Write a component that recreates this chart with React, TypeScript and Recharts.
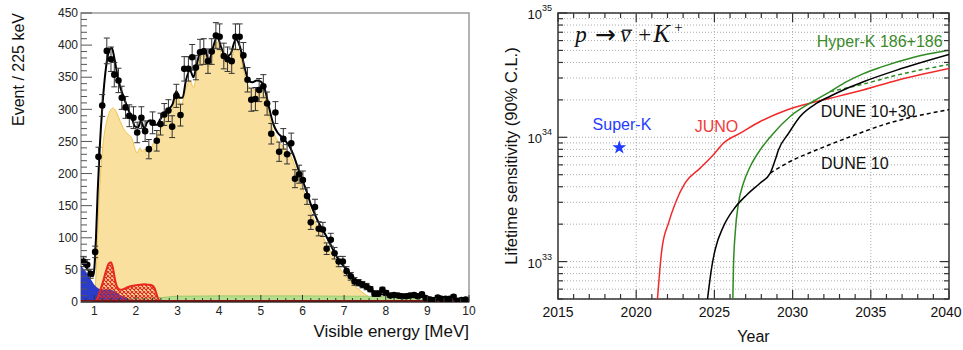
import React from 'react'
import {
  ComposedChart, Area, Line, Scatter, ErrorBar, XAxis, YAxis, CartesianGrid,
  ReferenceLine, ReferenceArea, ReferenceDot, Symbols,
} from 'recharts'

const FONT = '"Liberation Sans", Arial, Helvetica, sans-serif'
const SERIF = '"Liberation Serif", "DejaVu Serif", serif'

// ---------- left panel: visible energy spectrum ----------
const dataEnergy = [
  0.74, 0.83, 0.91, 1.02, 1.10, 1.19, 1.30, 1.40, 1.48, 1.58, 1.66, 1.75, 1.84, 1.94, 2.03, 2.13,
  2.22, 2.31, 2.40, 2.50, 2.59, 2.68, 2.78, 2.87, 2.97, 3.07, 3.16, 3.26, 3.35, 3.44, 3.54, 3.63,
  3.73, 3.82, 3.92, 4.01, 4.11, 4.20, 4.30, 4.39, 4.49, 4.58, 4.68, 4.77, 4.87, 4.96, 5.06, 5.15,
  5.25, 5.35, 5.44, 5.54, 5.63, 5.73, 5.82, 5.92, 6.01, 6.11, 6.20, 6.30, 6.39, 6.49, 6.58, 6.68,
  6.77, 6.87, 6.97, 7.06, 7.16, 7.25, 7.35, 7.44, 7.54, 7.63, 7.73, 7.82, 7.92, 8.01, 8.11, 8.20,
  8.30, 8.39, 8.49, 8.58, 8.68, 8.77, 8.87, 8.96, 9.06, 9.15, 9.25, 9.34, 9.44, 9.54, 9.63, 9.73,
  9.82, 9.92,
]
const dataCounts = [
  63, 58, 44, 78, 226, 306, 391, 378, 354, 345, 318, 303, 290, 287, 264, 287,
  266, 238, 279, 251, 277, 292, 298, 273, 321, 291, 363, 363, 381, 365, 389, 390,
  375, 390, 415, 413, 383, 378, 375, 413, 413, 384, 346, 315, 316, 330, 336, 309,
  262, 295, 234, 254, 230, 247, 192, 199, 190, 165, 124, 148, 114, 113, 83, 97,
  76, 63, 63, 48, 40, 32, 30, 27, 24, 20, 13, 13, 19, 14, 10, 11,
  10, 9, 9, 10, 11, 9, 12, 6, 4, 2, 7, 5, 5, 5, 8, 2,
  3, 4,
]
const dataErrors = [
  8, 8, 7, 9, 15, 17, 20, 19, 19, 19, 18, 17, 17, 17, 16, 17,
  16, 15, 17, 16, 17, 17, 17, 17, 18, 17, 19, 19, 20, 19, 20, 20,
  19, 20, 20, 20, 20, 19, 19, 20, 20, 20, 19, 18, 18, 18, 18, 18,
  16, 17, 15, 16, 15, 16, 14, 14, 14, 13, 11, 12, 11, 11, 9, 10,
  9, 8, 8, 7, 6, 6, 5, 5, 5, 4, 4, 4, 4, 4, 3, 3,
  3, 3, 3, 3, 3, 3, 3, 2, 2, 1, 3, 2, 2, 2, 3, 1,
  2, 2,
]

const fitEnergy = [
  0.68, 0.75, 0.85, 0.92, 0.97, 1.0, 1.04, 1.08, 1.13, 1.2, 1.28, 1.36, 1.42, 1.48, 1.55, 1.62,
  1.7, 1.8, 1.9, 1.98, 2.05, 2.12, 2.2, 2.27, 2.35, 2.43, 2.5, 2.58, 2.68, 2.78, 2.88, 2.97,
  3.05, 3.12, 3.2, 3.3, 3.38, 3.46, 3.56, 3.65, 3.75, 3.85, 3.95, 4.05, 4.15, 4.27, 4.4, 4.5,
  4.6, 4.7, 4.8, 4.9, 5.0, 5.1, 5.2, 5.3, 5.4, 5.5, 5.6, 5.7, 5.8, 5.9, 6.0, 6.1,
  6.2, 6.3, 6.4, 6.5, 6.6, 6.7, 6.8, 6.9, 7.0, 7.1, 7.2, 7.3, 7.4, 7.5, 7.6, 7.7,
  7.8, 7.9, 8.0, 8.5, 9.0, 9.5, 10,
]
const fitCounts = [
  62, 58, 50, 43, 40, 52, 100, 170, 240, 310, 365, 392, 396, 380, 355, 335,
  320, 302, 287, 273, 272, 282, 270, 280, 283, 276, 276, 284, 294, 300, 308, 328,
  318, 318, 345, 361, 350, 370, 392, 394, 376, 396, 413, 396, 382, 386, 409, 397,
  368, 346, 342, 345, 343, 330, 302, 277, 264, 257, 250, 241, 226, 207, 190, 172,
  152, 136, 122, 111, 99, 86, 73, 63, 55, 47, 40, 34, 29, 25, 21, 17,
  14, 12, 11, 9, 7, 5, 4,
]

const reactorEnergy = [
  0.98, 1.02, 1.06, 1.1, 1.15, 1.2, 1.3, 1.38, 1.45, 1.52, 1.6, 1.7, 1.8, 1.9, 1.97, 2.03,
  2.1, 2.15, 2.2, 2.27, 2.33, 2.4, 2.5, 2.6, 2.7, 2.8, 2.9, 3.0, 3.08, 3.2, 3.3, 3.38,
  3.46, 3.55, 3.65, 3.75, 3.85, 3.95, 4.05, 4.15, 4.27, 4.4, 4.5, 4.6, 4.7, 4.8, 4.9, 5.0,
  5.1, 5.2, 5.3, 5.4, 5.5, 5.6, 5.7, 5.8, 5.9, 6.0, 6.1, 6.2, 6.3, 6.4, 6.5, 6.6,
  6.7, 6.8, 6.9, 7.0, 7.1, 7.2, 7.3, 7.4, 7.5, 7.6, 7.7, 7.8, 7.9,
]
const reactorCounts = [
  0, 20, 70, 140, 200, 240, 282, 298, 302, 297, 285, 270, 262, 255, 240, 232,
  240, 234, 238, 228, 233, 245, 258, 270, 286, 293, 305, 322, 305, 332, 345, 334,
  356, 381, 386, 366, 386, 405, 386, 372, 376, 396, 386, 356, 336, 330, 333, 331,
  318, 290, 265, 252, 245, 238, 230, 215, 196, 178, 160, 141, 125, 111, 100, 88,
  75, 62, 52, 43, 35, 28, 22, 17, 12, 8, 4, 1.5, 0,
]

const accEnergy = [0.68, 0.8, 0.9, 1.0, 1.1, 1.2, 1.3, 1.4, 1.5, 1.6, 1.7, 1.8, 1.9, 2.0, 2.1]
const accCounts = [56, 47, 37, 27, 21, 19, 20, 19, 16, 12, 8, 5, 3, 1, 0]

const lihEnergy = [
  1.02, 1.06, 1.12, 1.2, 1.28, 1.35, 1.4, 1.45, 1.5, 1.56, 1.62, 1.7, 1.8, 1.9, 2.0, 2.1,
  2.2, 2.3, 2.38, 2.45, 2.5, 2.55, 2.6,
]
const lihCounts = [
  0, 4, 14, 30, 48, 60, 62, 52, 34, 22, 19, 20, 23, 25, 26, 27,
  27.5, 27, 26, 21, 11, 3, 0,
]

const geoEnergy = [1.0, 1.5, 2.0, 2.5, 2.9, 3.0, 3.05]
const geoCounts = [3, 5, 6, 7, 7, 3, 0]

const bgEnergy = [0.68, 1.0, 1.5, 2.0, 2.5, 3.0, 4.0, 5.0, 6.0, 7.0, 7.5, 8.0, 8.5, 9.0, 9.5, 10]
const bgCounts = [3, 4, 5, 5, 6, 9, 9.5, 9.5, 9.5, 9, 9, 8, 6, 4, 2, 1.5]

const floorEnergy = [0.68, 10]
const floorCounts = [1.5, 1.5]

const energyMajor = [1, 2, 3, 4, 5, 6, 7, 8, 9, 10]
const countMajor = [0, 50, 100, 150, 200, 250, 300, 350, 400, 450]

// ---------- right panel: lifetime sensitivity ----------
const junoYear = [2021.36, 2021.64, 2022.07, 2022.5, 2023.13, 2024.09, 2024.94, 2025.58, 2026.65, 2027.93, 2029.63, 2031.33, 2032.4, 2034.5, 2036.7, 2040]
const junoLife = [5.0e32, 1.25e33, 2.05e33, 2.95e33, 4.29e33, 5.65e33, 7.23e33, 8.97e33, 1.08e34, 1.34e34, 1.66e34, 1.91e34, 2.06e34, 2.4e34, 2.88e34, 3.58e34]

const hkYear = [2026.18, 2026.22, 2026.33, 2026.54, 2026.86, 2027.29, 2027.93, 2028.78, 2029.84, 2031.33, 2032.4, 2033.46, 2034.53, 2035.6, 2037.7, 2040]
const hkLife = [5.0e32, 9.2e32, 1.7e33, 2.95e33, 4.29e33, 5.82e33, 7.93e33, 1.08e34, 1.47e34, 1.95e34, 2.33e34, 2.8e34, 3.25e34, 3.65e34, 4.39e34, 5.01e34]

const hkOneYear = [2032.4, 2033.5, 2034.53, 2036.66, 2040]
const hkOneLife = [2.33e34, 2.5e34, 2.68e34, 3.16e34, 3.85e34]

const duneYear = [2024.56, 2024.84, 2025.05, 2025.58, 2026.22, 2027.08, 2027.93, 2028.57, 2028.89, 2029.1, 2029.75, 2030.48, 2031.55, 2032.4, 2033.46, 2034.53, 2036.66, 2040]
const duneLife = [5.0e32, 9.2e32, 1.25e33, 1.92e33, 2.62e33, 3.45e33, 4.29e33, 5.15e33, 6.59e33, 7.93e33, 1.08e34, 1.47e34, 1.88e34, 2.14e34, 2.47e34, 2.8e34, 3.47e34, 4.63e34]

const dune10Year = [2028.57, 2029.63, 2031.55, 2033.68, 2035.8, 2040]
const dune10Life = [5.15e33, 6.19e33, 7.93e33, 1.01e34, 1.26e34, 1.67e34]

const superK = [{ year: 2018.92, v: 8.26e33 }]

const yearMajor = [2015, 2020, 2025, 2030, 2035, 2040]
const yearGrid = [2020, 2025, 2030, 2035]

// ---------- built series ----------
const pairs = (xs: number[], ys: number[], xk: string, yk: string) =>
  xs.map((x, i) => ({ [xk]: x, [yk]: ys[i] }))

const points = dataEnergy.map((e, i) => ({ e, n: dataCounts[i], err: dataErrors[i] }))
const fit = pairs(fitEnergy, fitCounts, 'e', 'n')
const reactor = pairs(reactorEnergy, reactorCounts, 'e', 'n')
const accidentals = pairs(accEnergy, accCounts, 'e', 'n')
const lih = pairs(lihEnergy, lihCounts, 'e', 'n')
const geo = pairs(geoEnergy, geoCounts, 'e', 'n')
const bg = pairs(bgEnergy, bgCounts, 'e', 'n')
const floor = pairs(floorEnergy, floorCounts, 'e', 'n')

const juno = pairs(junoYear, junoLife, 'year', 'v')
const hk = pairs(hkYear, hkLife, 'year', 'v')
const hkOne = pairs(hkOneYear, hkOneLife, 'year', 'v')
const dune = pairs(duneYear, duneLife, 'year', 'v')
const dune10 = pairs(dune10Year, dune10Life, 'year', 'v')

const energyTicks = Array.from({ length: 47 }, (_, i) => Math.round((0.8 + i * 0.2) * 10) / 10)
const countTicks = Array.from({ length: 46 }, (_, i) => i * 10)
const yearTicks = Array.from({ length: 26 }, (_, i) => 2015 + i)
const lifeTicks = [
  ...[5, 6, 7, 8, 9].map((m) => m * 1e32),
  ...[1, 2, 3, 4, 5, 6, 7, 8, 9].map((m) => m * 1e33),
  ...[1, 2, 3, 4, 5, 6, 7, 8, 9].map((m) => m * 1e34),
  1e35,
]

// layout
const L_W = 480
const L_H = 350
const L_M = { top: 13, right: 11, bottom: 8, left: 30 }
const R_W = 483
const R_H = 350
const R_M = { top: 13, right: 14, bottom: 10, left: 30 }
const R_RIGHT = R_W - R_M.right

function EnergyTick({ x, y, payload }: any) {
  const v = payload.value
  const major = energyMajor.includes(v)
  return (
    <g>
      <line x1={x} x2={x} y1={y} y2={y - (major ? 7 : 4)} stroke="#333" />
      {major && (
        <text x={x} y={y + 13} textAnchor="middle" fontSize={12} fill="#222">{v}</text>
      )}
    </g>
  )
}

function CountTick({ x, y, payload }: any) {
  const v = payload.value
  const major = countMajor.includes(v)
  return (
    <g>
      <line x1={x} x2={x + (major ? 11 : 6)} y1={y} y2={y} stroke="#555" />
      {major && (
        <text x={x - 3} y={y} dy="0.35em" textAnchor="end" fontSize={12} fill="#222">{v}</text>
      )}
    </g>
  )
}

function YearTick({ x, y, payload }: any) {
  const v = payload.value
  const major = yearMajor.includes(v)
  const len = major ? 9 : 5
  // the last label sits at the picture's edge; keep it inside
  const lx = v === 2040 ? x - 3 : x
  return (
    <g stroke="#333" strokeWidth={1.2}>
      <line x1={x} x2={x} y1={y} y2={y - len} />
      <line x1={x} x2={x} y1={R_M.top} y2={R_M.top + len} />
      {major && (
        <text x={lx} y={y + 18} textAnchor="middle" fontSize={14} fill="#111" stroke="none">{v}</text>
      )}
    </g>
  )
}

function LifeTick({ x, y, payload }: any) {
  const v = payload.value
  const lg = Math.log10(v)
  const exp = Math.round(lg)
  const major = Math.abs(lg - exp) < 1e-6
  const len = major ? 9 : 5
  return (
    <g stroke="#333" strokeWidth={1.2}>
      <line x1={x} x2={x + len} y1={y} y2={y} />
      <line x1={R_RIGHT} x2={R_RIGHT - len} y1={y} y2={y} />
      {major && (
        <text x={x - 6} y={y + 6} textAnchor="end" fontSize={13} fill="#111" stroke="none">
          10<tspan dy={-8} fontSize={9}>{exp}</tspan>
        </text>
      )}
    </g>
  )
}

function BottomTitle({ viewBox, text, align, dy, size }: any) {
  const vb = viewBox || {}
  const x = align === 'end' ? vb.x + vb.width : vb.x + vb.width / 2
  return (
    <text x={x} y={vb.y + dy} textAnchor={align} fontSize={size} fill="#111">{text}</text>
  )
}

function SideTitle({ viewBox, text, dx, mode, size }: any) {
  const vb = viewBox || {}
  const x = vb.x + dx
  const y = mode === 'end' ? vb.y : vb.y + vb.height / 2
  return (
    <text x={x} y={y} textAnchor={mode} fontSize={size} fill="#111" transform={`rotate(-90 ${x} ${y})`}>{text}</text>
  )
}

function Note({ viewBox, text, color }: any) {
  const vb = viewBox || {}
  return (
    <text x={vb.x + (vb.width || 0) / 2} y={vb.y + (vb.height || 0) / 2} dy="0.35em" textAnchor="middle" fontSize={16} fill={color}>
      {text}
    </text>
  )
}

// p -> nu-bar + K+, set glyph by glyph like the TeX original
function Reaction({ viewBox }: any) {
  const vb = viewBox || {}
  const x = vb.x
  const y = vb.y
  return (
    <g fill="#111" fontFamily={SERIF} fontSize={23}>
      <text x={x} y={y} fontStyle="italic">p</text>
      <text x={x + 30} y={y + 1} textAnchor="middle" fontSize={25} fontFamily='"DejaVu Sans", sans-serif'>→</text>
      <text x={x + 45} y={y} fontStyle="italic">ν</text>
      <line x1={x + 47} x2={x + 57} y1={y - 12} y2={y - 12} stroke="#111" strokeWidth={1.3} />
      <text x={x + 69.5} y={y} textAnchor="middle">+</text>
      <text x={x + 78} y={y} fontStyle="italic" fontSize={25}>K</text>
      <text x={x + 99} y={y - 10} fontSize={15}>+</text>
    </g>
  )
}

function SpectrumChart() {
  return (
    <ComposedChart width={L_W} height={L_H} margin={L_M}>
      <defs>
        <pattern id="lihHatch" width={4} height={4} patternUnits="userSpaceOnUse">
          <path d="M0 0L4 4M4 0L0 4" stroke="#e3281e" strokeWidth={1.1} />
        </pattern>
      </defs>
      <XAxis
        type="number"
        dataKey="e"
        domain={[0.68, 10]}
        allowDataOverflow
        ticks={energyTicks}
        interval={0}
        tick={<EnergyTick />}
        tickLine={false}
        tickSize={0}
        tickMargin={0}
        axisLine={{ stroke: '#222' }}
        height={40}
        label={<BottomTitle text="Visible energy [MeV]" align="end" dy={35} size={17} />}
      />
      <YAxis
        type="number"
        domain={[0, 450]}
        allowDataOverflow
        ticks={countTicks}
        interval={0}
        tick={<CountTick />}
        tickLine={false}
        tickSize={0}
        tickMargin={0}
        axisLine={false}
        width={51}
        label={<SideTitle text="Event / 225 keV" dx={-6} mode="end" size={16} />}
      />
      <ReferenceArea x1={0.68} x2={10} y1={0} y2={450} fill="none" stroke="#9a9a9a" strokeWidth={1.5} />
      <Area data={reactor} dataKey="n" type="monotone" fill="#f9e09f" fillOpacity={1} stroke="#f2c24a" strokeWidth={1} isAnimationActive={false} />
      <Area data={geo} dataKey="n" type="monotone" fill="#5f8e9c" fillOpacity={0.9} stroke="none" isAnimationActive={false} />
      <Area data={bg} dataKey="n" type="monotone" fill="#b7df8b" fillOpacity={1} stroke="#9bcc6c" strokeWidth={1} isAnimationActive={false} />
      <Area data={accidentals} dataKey="n" type="monotone" fill="#2a3cc8" fillOpacity={1} stroke="none" isAnimationActive={false} />
      <Area data={lih} dataKey="n" type="monotone" fill="url(#lihHatch)" fillOpacity={1} stroke="#e8281e" strokeWidth={2} isAnimationActive={false} />
      <Line data={floor} dataKey="n" type="linear" stroke="#8a1010" strokeWidth={2} dot={false} isAnimationActive={false} />
      <Line data={fit} dataKey="n" type="monotone" stroke="#000" strokeWidth={2} dot={false} isAnimationActive={false} />
      <Scatter
        data={points}
        dataKey="n"
        isAnimationActive={false}
        shape={(p: any) => <circle cx={p.cx} cy={p.cy} r={3.3} fill="#000" />}
      >
        <ErrorBar dataKey="err" direction="y" width={3} stroke="#333" strokeWidth={1} />
      </Scatter>
    </ComposedChart>
  )
}

function LifetimeChart() {
  return (
    <ComposedChart width={R_W} height={R_H} margin={R_M}>
      <CartesianGrid vertical={false} stroke="#aaaaaa" strokeDasharray="1 2" />
      {yearGrid.map((yr) => (
        <ReferenceLine key={yr} x={yr} stroke="#aaaaaa" strokeDasharray="1 2" />
      ))}
      <XAxis
        type="number"
        dataKey="year"
        domain={[2015, 2040]}
        allowDataOverflow
        ticks={yearTicks}
        interval={0}
        tick={<YearTick />}
        tickLine={false}
        tickSize={0}
        tickMargin={0}
        axisLine={false}
        height={41}
        label={<BottomTitle text="Year" align="middle" dy={43} size={16} />}
      />
      <YAxis
        type="number"
        scale="log"
        domain={[5e32, 1e35]}
        allowDataOverflow
        ticks={lifeTicks}
        interval={0}
        tick={<LifeTick />}
        tickLine={false}
        tickSize={0}
        tickMargin={0}
        axisLine={false}
        width={48}
        label={<SideTitle text="Lifetime sensitivity (90% C.L.)" dx={7} mode="middle" size={16.5} />}
      />
      <ReferenceArea x1={2015} x2={2040} y1={5e32} y2={1e35} fill="none" stroke="#333" strokeWidth={1.5} />
      <Line data={juno} dataKey="v" type="monotone" stroke="#f02a2a" strokeWidth={1.5} dot={false} isAnimationActive={false} />
      <Line data={hkOne} dataKey="v" type="monotone" stroke="#2f8a22" strokeWidth={1.5} strokeDasharray="4 3" dot={false} isAnimationActive={false} />
      <Line data={hk} dataKey="v" type="monotone" stroke="#2f8a22" strokeWidth={1.5} dot={false} isAnimationActive={false} />
      <Line data={dune10} dataKey="v" type="monotone" stroke="#000" strokeWidth={1.5} strokeDasharray="4 3" dot={false} isAnimationActive={false} />
      <Line data={dune} dataKey="v" type="monotone" stroke="#000" strokeWidth={1.5} dot={false} isAnimationActive={false} />
      <Scatter
        data={superK}
        dataKey="v"
        isAnimationActive={false}
        shape={(p: any) => <Symbols cx={p.cx} cy={p.cy} type="star" size={60} fill="#1f3cff" />}
      />
      <ReferenceDot x={2016.1} y={5.82e34} r={0} fill="none" stroke="none" label={<Reaction />} />
      <ReferenceDot x={2019.09} y={1.28e34} r={0} fill="none" stroke="none" label={<Note text="Super-K" color="#1f3cff" />} />
      <ReferenceDot x={2025.13} y={1.22e34} r={0} fill="none" stroke="none" label={<Note text="JUNO" color="#f23a3a" />} />
      <ReferenceDot x={2035.57} y={5.88e34} r={0} fill="none" stroke="none" label={<Note text="Hyper-K 186+186" color="#3a8a2a" />} />
      <ReferenceDot x={2034.83} y={1.63e34} r={0} fill="none" stroke="none" label={<Note text="DUNE 10+30" color="#111" />} />
      <ReferenceDot x={2033.98} y={6.14e33} r={0} fill="none" stroke="none" label={<Note text="DUNE 10" color="#111" />} />
    </ComposedChart>
  )
}

export default function App() {
  return (
    <div style={{ position: 'absolute', left: 0, top: 0, width: 963, height: 350, background: '#fff', fontFamily: FONT }}>
      <div style={{ position: 'absolute', left: 0, top: 0 }}>
        <SpectrumChart />
      </div>
      <div style={{ position: 'absolute', left: 480, top: 0 }}>
        <LifetimeChart />
      </div>
    </div>
  )
}
